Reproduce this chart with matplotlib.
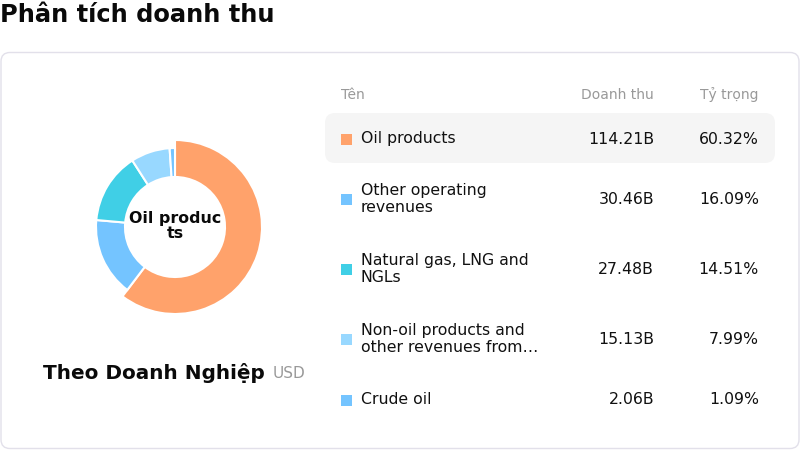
import matplotlib
matplotlib.use("Agg")
import matplotlib.pyplot as plt
from matplotlib.patches import FancyBboxPatch, Rectangle

plt.rcParams['font.family'] = ['DejaVu Sans']

# ---- data ----
categories = ["Oil products", "Other operating\nrevenues", "Natural gas, LNG and\nNGLs",
              "Non-oil products and\nother revenues from…", "Crude oil"]
values_b = [114.21, 30.46, 27.48, 15.13, 2.06]
shares = [60.32, 16.09, 14.51, 7.99, 1.09]
colors = ["#FFA26B", "#74C4FF", "#40CFE6", "#98D8FF", "#74C4FF"]
header = ["Tên", "Doanh thu", "Tỷ trọng"]
title = "Phân tích doanh thu"
center_label = "Oil produc\nts"
subtitle = "Theo Doanh Nghiệp"
unit = "USD"

W, H = 800, 450
fig = plt.figure(figsize=(8, 4.5), dpi=100)
fig.patch.set_facecolor("white")
ax = fig.add_axes([0, 0, 1, 1])
ax.set_xlim(0, W)
ax.set_ylim(H, 0)
ax.axis("off")

# title
ax.text(0, 15, title, fontsize=17.4, fontweight="bold", color="#0a0a0a", ha="left", va="center")

# card
card = FancyBboxPatch((1, 52.5), 798, 396, boxstyle="round,pad=0,rounding_size=9",
                      fc="white", ec="#E2E0EA", lw=1)
ax.add_patch(card)

# table header
ax.text(341, 95, header[0], fontsize=10, color="#999999", ha="left", va="center")
ax.text(654, 95, header[1], fontsize=10, color="#999999", ha="right", va="center")
ax.text(759, 95, header[2], fontsize=10, color="#999999", ha="right", va="center")

row_y = [139, 199, 269, 339, 400]
# highlighted row
hl = FancyBboxPatch((325, 113), 450, 50, boxstyle="round,pad=0,rounding_size=10",
                    fc="#F5F5F5", ec="none")
ax.add_patch(hl)

for i, (name, v, s, c) in enumerate(zip(categories, values_b, shares, colors)):
    y = row_y[i]
    ax.add_patch(Rectangle((341, y - 5.5), 11, 11, fc=c, ec="none"))
    ax.text(361, y, name, fontsize=11.3, color="#111111", ha="left", va="center",
            linespacing=1.2)
    ax.text(654, y, f"{v:.2f}B", fontsize=11.3, color="#111111", ha="right", va="center")
    ax.text(759, y, f"{s:.2f}%", fontsize=11.3, color="#111111", ha="right", va="center")

# subtitle
ax.text(43, 373, subtitle, fontsize=14.4, fontweight="bold", color="#0a0a0a",
        ha="left", va="center")
ax.text(273, 373, unit, fontsize=11, color="#999999", ha="left", va="center")

# donut
cx, cy, half = 175, 227, 100
pax = fig.add_axes([(cx - half) / W, 1 - (cy + half) / H, 2 * half / W, 2 * half / H])
wedges, _ = pax.pie(values_b, colors=colors, startangle=90, counterclock=False,
                    radius=79, wedgeprops=dict(width=29, edgecolor="white", linewidth=1.5))
wedges[0].set_radius(87)
wedges[0].set_width(37)
pax.set_xlim(-half, half)
pax.set_ylim(-half, half)
pax.set_aspect("equal")
pax.axis("off")
pax.text(0, 1.5, center_label, fontsize=11.4, fontweight="bold", color="#0a0a0a",
         ha="center", va="center", linespacing=1.0)

fig.savefig("out.png", dpi=100, facecolor="white")
